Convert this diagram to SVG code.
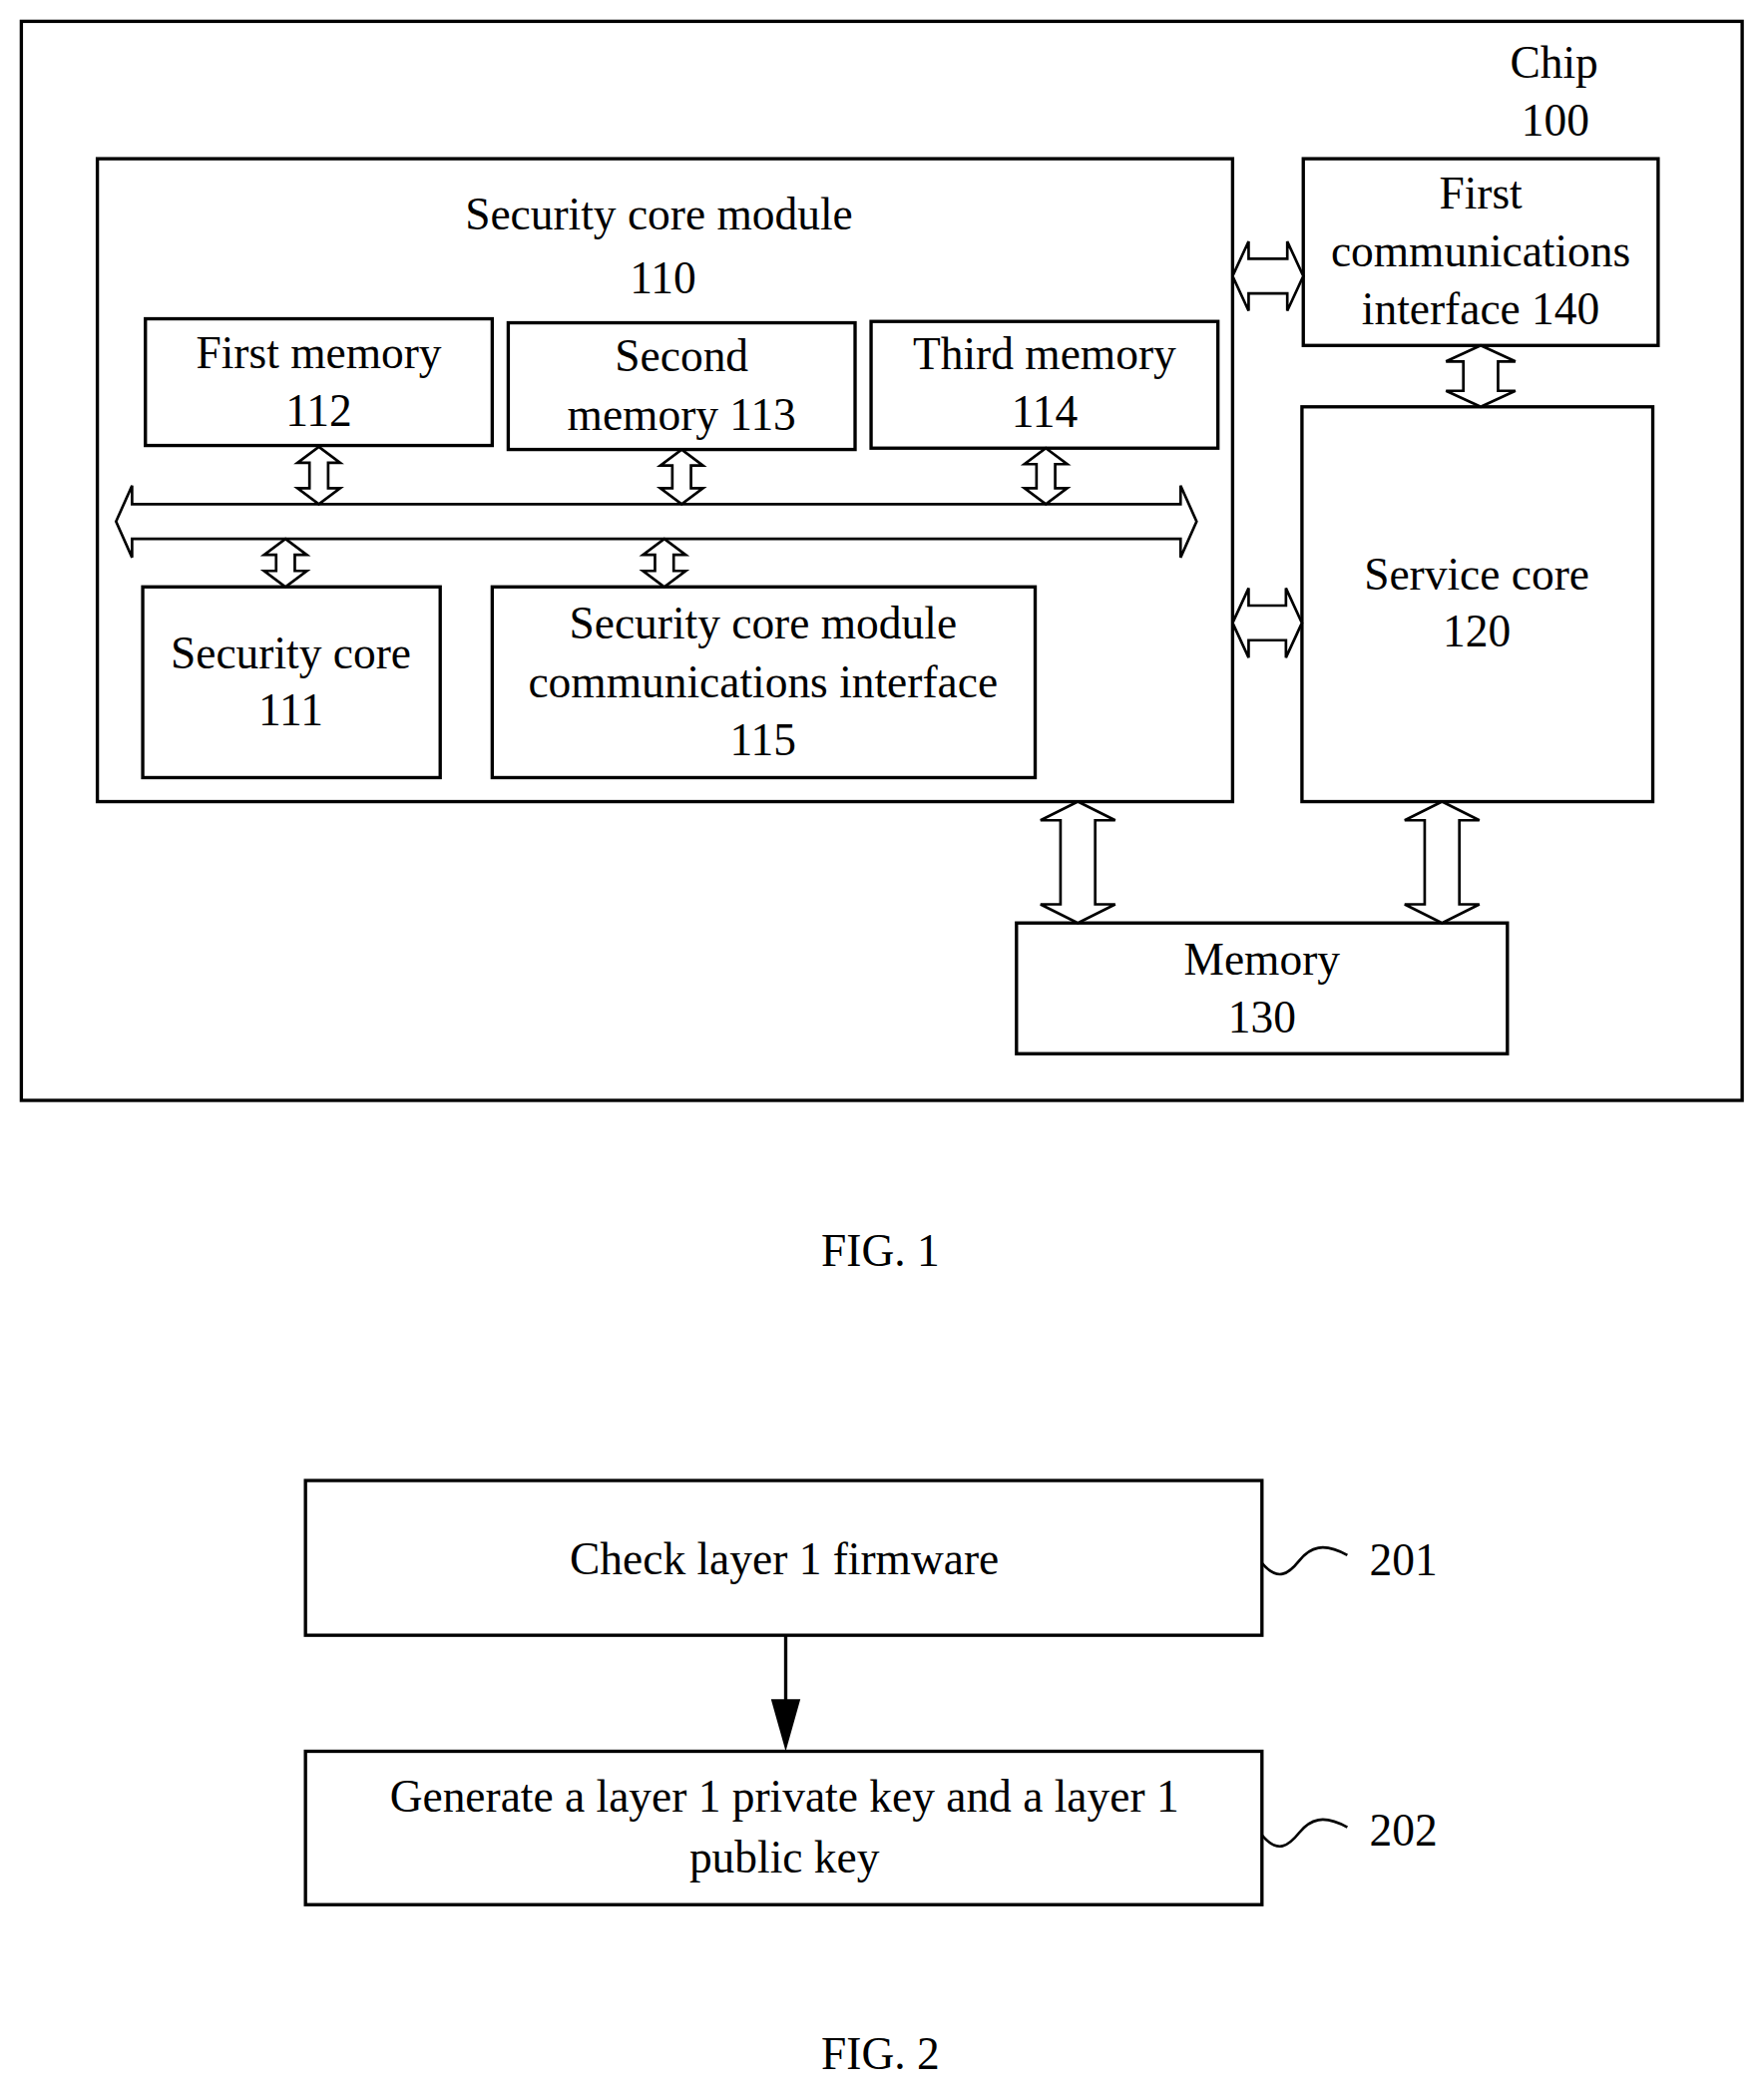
<svg xmlns="http://www.w3.org/2000/svg" width="1768" height="2096" viewBox="0 0 1768 2096">
<style>
.b{fill:none;stroke:#000;stroke-width:2.5}
.a{fill:#fff;stroke:#000;stroke-width:2}
text{font-family:"Liberation Serif","Times New Roman",serif;font-size:34px;text-anchor:middle;fill:#000}
</style>
<rect width="1768" height="2096" fill="#fff"/>
<g transform="scale(1.3370)">
<g id="chip"><rect class="b" x="16" y="16" width="1290" height="809"/><text x="1165" y="58">Chip</text><text x="1166" y="102">100</text></g>
<g id="scm"><rect class="b" x="73" y="119" width="851" height="482"/><text x="494" y="172">Security core module</text><text x="497" y="220">110</text></g>
<g id="m112"><rect class="b" x="109" y="239" width="260" height="95"/><text x="239" y="276">First memory</text><text x="239" y="319">112</text></g>
<g id="m113"><rect class="b" x="381" y="242" width="260" height="95"/><text x="511" y="278">Second</text><text x="511" y="322">memory 113</text></g>
<g id="m114"><rect class="b" x="653" y="241" width="260" height="95"/><text x="783" y="277">Third memory</text><text x="783" y="320">114</text></g>
<g id="sc111"><rect class="b" x="107" y="440" width="223" height="143"/><text x="218" y="501">Security core</text><text x="218" y="544">111</text></g>
<g id="ci115"><rect class="b" x="369" y="440" width="407" height="143"/><text x="572" y="479">Security core module</text><text x="572" y="523">communications interface</text><text x="572" y="566">115</text></g>
<g id="ci140"><rect class="b" x="977" y="119" width="266" height="140"/><text x="1110" y="156">First</text><text x="1110" y="200">communications</text><text x="1110" y="243">interface 140</text></g>
<g id="sc120"><rect class="b" x="976" y="305" width="263" height="296"/><text x="1107" y="442">Service core</text><text x="1107" y="485">120</text></g>
<g id="m130"><rect class="b" x="762" y="692" width="368" height="98"/><text x="946" y="731">Memory</text><text x="946" y="774">130</text></g>
<g id="connectors">
<path class="a" d="M87,391 L99,364 L99,378 L885,378 L885,364 L897,391 L885,418 L885,404 L99,404 L99,418 Z"/>
<path class="a" d="M239,335 L255,347 L246,347 L246,366 L255,366 L239,378 L223,366 L232,366 L232,347 L223,347 Z"/>
<path class="a" d="M511,337 L527,349 L518,349 L518,366 L527,366 L511,378 L495,366 L504,366 L504,349 L495,349 Z"/>
<path class="a" d="M784,336 L800,348 L791,348 L791,366 L800,366 L784,378 L768,366 L777,366 L777,348 L768,348 Z"/>
<path class="a" d="M214,404 L230,416 L221,416 L221,428 L230,428 L214,440 L198,428 L207,428 L207,416 L198,416 Z"/>
<path class="a" d="M498,404 L514,416 L505,416 L505,428 L514,428 L498,440 L482,428 L491,428 L491,416 L482,416 Z"/>
<path class="a" d="M924,207 L936,181 L936,194 L965,194 L965,181 L977,207 L965,233 L965,220 L936,220 L936,233 Z"/>
<path class="a" d="M924,467 L936,441 L936,454 L964,454 L964,441 L976,467 L964,493 L964,480 L936,480 L936,493 Z"/>
<path class="a" d="M1110,259 L1136,271 L1123,271 L1123,293 L1136,293 L1110,305 L1084,293 L1097,293 L1097,271 L1084,271 Z"/>
<path class="a" d="M808,601 L836,615 L821,615 L821,678 L836,678 L808,692 L780,678 L795,678 L795,615 L780,615 Z"/>
<path class="a" d="M1081,601 L1109,615 L1094,615 L1094,678 L1109,678 L1081,692 L1053,678 L1068,678 L1068,615 L1053,615 Z"/>
</g>
<text x="660" y="949">FIG. 1</text>
<g id="s201"><rect class="b" x="229" y="1110" width="717" height="116"/><text x="588" y="1180">Check layer 1 firmware</text>
<path d="M946,1172 C958,1186 966,1180 974,1170 C982,1160 992,1156 1010,1166" fill="none" stroke="#000" stroke-width="2"/><text x="1052" y="1181">201</text></g>
<g id="s202"><rect class="b" x="229" y="1313" width="717" height="115"/><text x="588" y="1358">Generate a layer 1 private key and a layer 1</text><text x="588" y="1404">public key</text>
<path d="M946,1376 C958,1390 966,1384 974,1374 C982,1364 992,1360 1010,1370" fill="none" stroke="#000" stroke-width="2"/><text x="1052" y="1384">202</text></g>
<g id="flow"><line x1="589" y1="1226" x2="589" y2="1275" stroke="#000" stroke-width="2.5"/><path d="M578,1274 L600,1274 L589,1313 Z" fill="#000"/></g>
<text x="660" y="1551">FIG. 2</text>
</g>
</svg>
